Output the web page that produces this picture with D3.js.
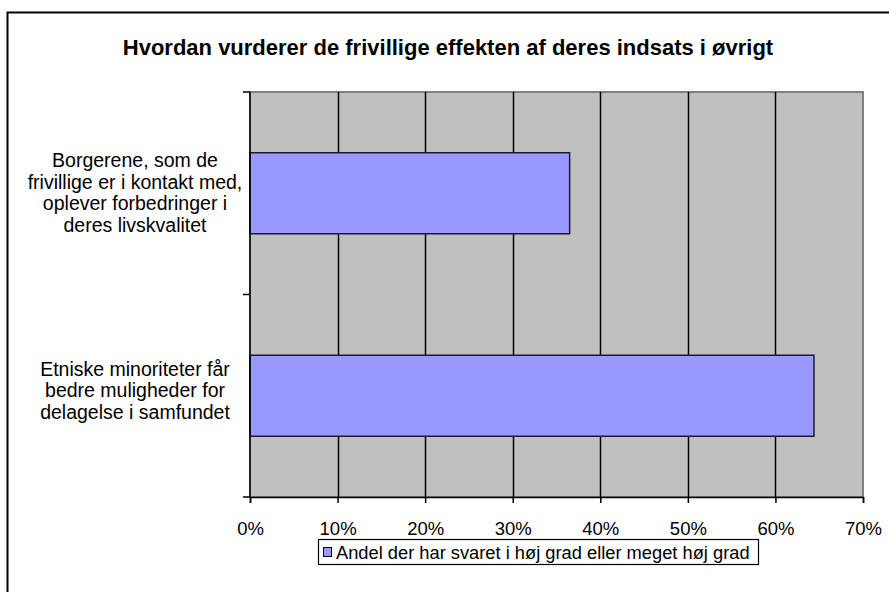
<!DOCTYPE html>
<html>
<head>
<meta charset="utf-8">
<script src="https://cdn.jsdelivr.net/npm/d3@7"></script>
<style>
  body { margin: 0; background: #fff; }
  svg text { font-family: Arial, "Liberation Sans", sans-serif; fill: #000; }
</style>
</head>
<body>
<div id="chart"></div>
<script>
// data
const title = 'Hvordan vurderer de frivillige effekten af deres indsats i øvrigt';
const categories = [
    ['Borgerene, som de', 'frivillige er i kontakt med,', 'oplever forbedringer i', 'deres livskvalitet'],
    ['Etniske minoriteter får', 'bedre muligheder for', 'delagelse i samfundet']
];
const values = [36.5, 64.4];
const xTicks = [0, 10, 20, 30, 40, 50, 60, 70];
const seriesName = 'Andel der har svaret i høj grad eller meget høj grad';

const W = 889, H = 592;
const plot = {left: 250, top: 92, right: 863, bottom: 497};

const svg = d3.select('#chart').append('svg')
    .attr('width', W).attr('height', H);

// outer frame (runs past the right/bottom edge)
svg.append('rect')
    .attr('x', 7.5).attr('y', 12.5)
    .attr('width', W + 20).attr('height', H + 20)
    .attr('fill', '#fff').attr('stroke', '#000').attr('stroke-width', 2);

svg.append('text')
    .attr('x', 448).attr('y', 55)
    .attr('text-anchor', 'middle')
    .style('font-size', '22px').style('font-weight', 'bold')
    .text(title);

const x = d3.scaleLinear().domain([0, 70]).range([plot.left, plot.right]);
const y = d3.scaleBand().domain(d3.range(categories.length))
    .range([plot.top, plot.bottom]).paddingInner(0.6).paddingOuter(0.3);

// plot background
svg.append('rect')
    .attr('x', plot.left).attr('y', plot.top)
    .attr('width', plot.right - plot.left).attr('height', plot.bottom - plot.top)
    .attr('fill', '#c0c0c0').attr('stroke', '#808080').attr('stroke-width', 2);

// gridlines
svg.append('g').selectAll('line')
    .data(xTicks.slice(1, -1))
    .join('line')
    .attr('x1', d => Math.round(x(d)) + 0.5).attr('x2', d => Math.round(x(d)) + 0.5)
    .attr('y1', plot.top).attr('y2', plot.bottom)
    .attr('stroke', '#000').attr('stroke-width', 1.5);

// bars
svg.append('g').selectAll('rect')
    .data(values)
    .join('rect')
    .attr('x', x(0))
    .attr('y', (d, i) => y(i))
    .attr('width', d => x(d) - x(0))
    .attr('height', y.bandwidth())
    .attr('fill', '#9999ff')
    .attr('stroke', '#1a1a33').attr('stroke-width', 1.5);

// x axis
const xAxis = svg.append('g')
    .attr('transform', 'translate(0,' + plot.bottom + ')')
    .call(d3.axisBottom(x).tickValues(xTicks).tickFormat(d => d + '%').tickSize(6).tickPadding(19));
xAxis.select('.domain').attr('stroke', '#000').attr('stroke-width', 1.5);
xAxis.selectAll('.tick line').attr('stroke-width', 1.5);
xAxis.selectAll('text').style('font-size', '18.5px').style('font-family', 'Arial, "Liberation Sans", sans-serif');

// y axis: ticks at the category boundaries
const yEdges = [plot.top, (plot.top + plot.bottom) / 2, plot.bottom];
svg.append('line')
    .attr('x1', plot.left).attr('x2', plot.left)
    .attr('y1', plot.top).attr('y2', plot.bottom)
    .attr('stroke', '#000').attr('stroke-width', 1.5);
svg.append('g').selectAll('line')
    .data(yEdges)
    .join('line')
    .attr('x1', plot.left - 7).attr('x2', plot.left)
    .attr('y1', d => d).attr('y2', d => d)
    .attr('stroke', '#000').attr('stroke-width', 1.5);

// category labels
const lineH = 21.5;
svg.append('g').selectAll('text')
    .data(categories)
    .join('text')
    .attr('text-anchor', 'middle')
    .style('font-size', '19.5px')
    .each(function(lines, i) {
        const cy = y(i) + y.bandwidth() / 2;
        // the 3-line label sits a little higher in the original
        const y0 = cy - (lines.length - 1) * lineH / 2 + (lines.length < 4 ? 1.5 : 6);
        d3.select(this).selectAll('tspan')
            .data(lines)
            .join('tspan')
            .attr('x', 135)
            .attr('y', (d, j) => y0 + j * lineH)
            .text(d => d);
    });

// legend
const lg = svg.append('g').attr('transform', 'translate(318,539)');
lg.append('rect')
    .attr('x', 0.5).attr('y', 0.5).attr('width', 440).attr('height', 25)
    .attr('fill', '#fff').attr('stroke', '#000').attr('stroke-width', 1.2);
lg.append('rect')
    .attr('x', 5.5).attr('y', 8.5).attr('width', 8).attr('height', 9)
    .attr('fill', '#9999ff').attr('stroke', '#000');
lg.append('text')
    .attr('x', 18).attr('y', 19.5)
    .style('font-size', '18.3px')
    .text(seriesName);
</script>
</body>
</html>
